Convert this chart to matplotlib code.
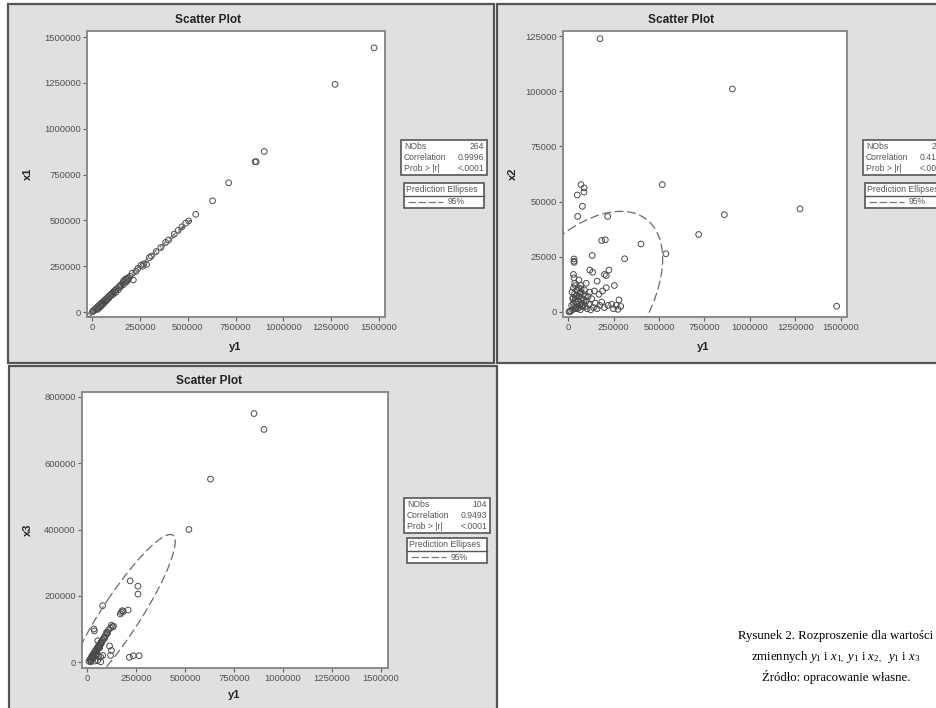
import numpy as np
import matplotlib
matplotlib.use('Agg')
import matplotlib.pyplot as plt
from matplotlib.patches import Rectangle, Ellipse
from matplotlib.lines import Line2D

plt.rcParams['font.family'] = ['Liberation Sans', 'DejaVu Sans']
plt.rcParams['mathtext.fontset'] = 'custom'
plt.rcParams['mathtext.rm'] = 'Liberation Serif'
plt.rcParams['mathtext.it'] = 'Liberation Serif:italic'

W, H = 936, 708

# --- data ---
# panel 1: y1 vs x1
y1_a = [1474000, 1270000, 900000, 852000, 858000, 714000, 630000, 542000,
        505000, 490000, 470000, 450000, 430000, 400000, 385000, 360000, 335000,
        310000, 300000, 285000, 270000, 265000, 255000, 240000, 230000, 216000,
        210000, 200000, 190000, 185000, 180000, 175000, 170000, 165000, 160000,
        150000, 145000, 140000, 130000, 125000, 120000, 115000, 110000, 105000,
        100000, 95000, 90000, 85000, 80000, 75000, 70000, 65000, 60000, 55000,
        50000, 45000, 40000, 35000, 30000, 25000, 20000, 15000, 10000, 5000, 2000,
        62000, 72000, 88000, 98000, 110000, 125000, 138000, 55000, 45000, 35000,
        28000, 66000, 78000, 150000, 165000, 180000, 190000, 178000]
x1_a = [1441000, 1242000, 876000, 820000, 820000, 705000, 607000, 533000,
        497000, 485000, 465000, 445000, 425000, 393000, 380000, 352000, 330000,
        305000, 297000, 260000, 262000, 250000, 255000, 238000, 222000, 175000,
        212000, 195000, 188000, 180000, 172000, 178000, 165000, 170000, 155000,
        148000, 140000, 135000, 128000, 120000, 118000, 110000, 108000, 100000,
        98000, 92000, 88000, 80000, 78000, 72000, 68000, 62000, 58000, 53000,
        48000, 43000, 38000, 33000, 28000, 24000, 19000, 14000, 9000, 4000, 1000,
        48000, 60000, 76000, 88000, 96000, 108000, 122000, 40000, 30000, 20000,
        14000, 55000, 66000, 138000, 150000, 165000, 178000, 182000]

# panel 2: y1 vs x2
y1_b = [176000, 903000, 518000, 1275000, 859000, 718000, 538000, 1476000,
        401000, 311000, 218000, 71000, 89000, 88000, 51000, 79000, 53000,
        185000, 205000, 133000, 33000, 33000, 34000, 120000, 135000, 200000,
        210000, 225000, 30000, 33000, 255000, 160000, 100000, 60000, 70000,
        210000, 190000, 170000, 280000, 290000, 275000, 240000, 220000, 200000,
        150000, 130000, 120000, 110000, 100000, 90000, 85000, 80000, 75000,
        70000, 65000, 60000, 55000, 50000, 45000, 40000, 35000, 30000, 25000,
        20000, 15000, 10000, 5000, 40000, 50000, 30000, 60000, 95000, 140000,
        175000, 160000, 105000, 115000, 48000, 38000, 28000, 22000, 68000,
        82000, 125000, 185000, 250000, 265000, 145000, 95000, 42000, 58000,
        36000, 26000, 64000, 52000, 44000, 76000, 88000, 32000, 72000]
x2_b = [123800, 101000, 57700, 46700, 44100, 35100, 26400, 2600,
        30800, 24100, 43300, 57700, 56200, 54300, 53000, 47900, 43300,
        32400, 32700, 25600, 24000, 23000, 22500, 19000, 18000, 17000,
        16500, 19000, 17000, 15500, 12000, 14000, 13000, 14500, 12000,
        11000, 9500, 8000, 5500, 2500, 1200, 3500, 3000, 2000,
        4000, 6000, 9000, 7000, 5000, 10000, 8000, 6000, 4000,
        9000, 3000, 7000, 5000, 10000, 2000, 6000, 8000, 4000, 1000,
        3000, 500, 200, 100, 12000, 3500, 11000, 2000, 2500, 2000,
        3000, 1500, 1500, 3500, 7500, 1500, 6500, 9000, 1000,
        2500, 1000, 4500, 1500, 3000, 9500, 7000, 4500, 11000,
        13000, 6000, 8500, 1500, 7000, 3000, 5500, 2500, 10500]

# panel 3: y1 vs x3
y1_c = [852000, 903000, 630000, 520000, 220000, 260000, 260000, 80000,
        210000, 180000, 175000, 170000, 125000, 130000, 120000, 135000, 35000,
        38000, 55000, 115000, 125000, 120000, 216000, 236000, 266000,
        80000, 60000, 70000, 45000, 70000, 55000, 40000, 20000, 10000,
        15000, 20000, 25000, 30000, 35000, 40000, 45000, 50000, 55000, 60000,
        65000, 70000, 75000, 80000, 85000, 90000, 95000, 100000, 105000,
        28000, 33000, 42000, 48000, 52000, 58000, 62000, 68000, 74000, 30000,
        22000, 18000, 26000, 50000, 65000, 90000, 100000, 110000, 185000]
x3_c = [750000, 702000, 552000, 400000, 245000, 229000, 205000, 170000,
        157000, 155000, 150000, 145000, 111000, 106000, 103000, 108000, 99600,
        94000, 64300, 48300, 35000, 20000, 14200, 19000, 19000,
        20000, 18000, 15000, 20000, 500, 5000, 3000, 500, 2000,
        8000, 12000, 18000, 22000, 26000, 31000, 36000, 40000, 45000, 50000,
        54000, 58000, 62000, 66000, 71000, 76000, 80000, 85000, 88000,
        15000, 21000, 28000, 33000, 37000, 42000, 46000, 52000, 57000, 10000,
        6000, 4000, 14000, 25000, 43000, 72000, 90000, 97000, 152000]

x_ticks = [0, 250000, 500000, 750000, 1000000, 1250000, 1500000]
y_ticks_a = [0, 250000, 500000, 750000, 1000000, 1250000, 1500000]
y_ticks_b = [0, 25000, 50000, 75000, 100000, 125000]
y_ticks_c = [0, 200000, 400000, 600000, 800000]

stats_a = ['264', '0.9996', '<.0001']
stats_b = ['239', '0.4123', '<.0001']
stats_c = ['104', '0.9493', '<.0001']

# 95% prediction ellipses: centre, spread along x / y, correlation
ell_a = [(95000, 92000), (420000, 410000), 0.9996]
ell_b = [(40800, 600), (479200, 45000), 0.52]
ell_c = [(170000, 140000), (280000, 245000), 0.91]

fig = plt.figure(figsize=(W / 100, H / 100), dpi=100)


def fx(x):
    return x / W


def fy(y):
    return 1 - y / H


def panel_box(l, t, r, b):
    fig.patches.append(Rectangle((fx(l), fy(b)), fx(r - l), (b - t) / H,
                                 transform=fig.transFigure, facecolor='#e0e0e0',
                                 edgecolor='#555555', lw=1.6, zorder=-2))


def scatter_panel(box, xs, ys, xlim, ylim, yticks, ell, ylab, title_xy, xlab_xy, ylab_xy):
    l, t, r, b = box
    ax = fig.add_axes([fx(l), fy(b), fx(r - l), (b - t) / H])
    ax.set_facecolor('white')
    ax.scatter(xs, ys, s=17, facecolors='none', edgecolors='#4a4a4a', lw=0.7, zorder=3)
    ax.set_xlim(xlim)
    ax.set_ylim(ylim)
    ax.set_xticks(x_ticks)
    ax.set_xticklabels([str(v) for v in x_ticks])
    ax.set_yticks(yticks)
    ax.set_yticklabels([str(v) for v in yticks])
    ax.tick_params(labelsize=6.8, colors='#606060', labelcolor='#505050',
                   length=3, width=0.8, pad=1.5)
    for s in ax.spines.values():
        s.set_color('#8a8a8a')
        s.set_linewidth(1.4)

    # prediction ellipse
    (cx, cy), (sx, sy), rho = ell
    cov = np.array([[sx * sx, rho * sx * sy], [rho * sx * sy, sy * sy]])
    vals, vecs = np.linalg.eigh(cov)
    ang = np.degrees(np.arctan2(vecs[1, 1], vecs[0, 1]))
    e = Ellipse((cx, cy), 2 * np.sqrt(vals[1]), 2 * np.sqrt(vals[0]), angle=ang,
                fill=False, ec='#6a6a6a', lw=0.9, ls=(0, (7, 3)), zorder=4)
    clip = Rectangle((0, 0), xlim[1], ylim[1], transform=ax.transData)
    e.set_clip_path(clip)
    ax.add_patch(e)

    fig.text(fx(title_xy[0]), fy(title_xy[1]), 'Scatter Plot', fontsize=8.6,
             fontweight='bold', color='#222222', ha='center', va='center')
    fig.text(fx(xlab_xy[0]), fy(xlab_xy[1]), 'y1', fontsize=8, fontweight='bold',
             color='#222222', ha='center', va='center')
    fig.text(fx(ylab_xy[0]), fy(ylab_xy[1]), ylab, fontsize=8, fontweight='bold',
             color='#222222', ha='center', va='center', rotation=90)
    return ax


def legend_boxes(sx, sy, ex, ey, vals):
    # statistics box
    w, h = 86, 35
    fig.patches.append(Rectangle((fx(sx), fy(sy + h)), fx(w), h / H, transform=fig.transFigure,
                                 facecolor='white', edgecolor='#555555', lw=1.2, zorder=1))
    names = ['NObs', 'Correlation', 'Prob > |r|']
    for i in range(3):
        yy = sy + 6.5 + i * 11.2
        fig.text(fx(sx + 3), fy(yy), names[i], fontsize=6.2, color='#555555',
                 ha='left', va='center')
        fig.text(fx(sx + w - 3), fy(yy), vals[i], fontsize=6.2, color='#555555',
                 ha='right', va='center')
    # prediction ellipses box
    w2, h2 = 80, 25
    fig.patches.append(Rectangle((fx(ex), fy(ey + h2)), fx(w2), h2 / H, transform=fig.transFigure,
                                 facecolor='white', edgecolor='#555555', lw=1.2, zorder=1))
    fig.text(fx(ex + 2), fy(ey + 6.5), 'Prediction Ellipses', fontsize=6.2,
             color='#555555', ha='left', va='center')
    fig.lines.append(Line2D([fx(ex), fx(ex + w2)], [fy(ey + 12.5), fy(ey + 12.5)],
                            transform=fig.transFigure, color='#555555', lw=1.0))
    fig.lines.append(Line2D([fx(ex + 4), fx(ex + 39)], [fy(ey + 19), fy(ey + 19)],
                            transform=fig.transFigure, color='#777777', lw=0.9, ls=(0, (6, 2))))
    fig.text(fx(ex + 44), fy(ey + 19), '95%', fontsize=6.2, color='#555555',
             ha='left', va='center')


panel_box(8, 4, 494, 363)
panel_box(497, 4, 945, 363)
panel_box(9, 366, 497, 715)

scatter_panel((87, 31, 385, 317), y1_a, x1_a, (-26000, 1531000), (-27000, 1533000),
              y_ticks_a, ell_a, 'x1', (208, 20), (235, 347), (28, 174))
scatter_panel((563, 31, 847, 317), y1_b, x2_b, (-27500, 1533000), (-2270, 127270),
              y_ticks_b, ell_b, 'x2', (681, 20), (703, 347), (513, 174))
scatter_panel((82, 392, 388, 668), y1_c, x3_c, (-25500, 1535700), (-18000, 815000),
              y_ticks_c, ell_c, 'x3', (209, 381), (234, 695), (28, 530))

legend_boxes(401, 140, 404, 183, stats_a)
legend_boxes(863, 140, 865, 183, stats_b)
legend_boxes(404, 498, 407, 538, stats_c)

cap_font = ['Liberation Serif', 'DejaVu Serif']
fig.text(fx(836), fy(636), 'Rysunek 2. Rozproszenie dla wartości', family=cap_font,
         fontsize=9.2, ha='center', va='center')
fig.text(fx(836), fy(657),
         r'zmiennych $y_{\mathit{1}}$ i $x_{\mathit{1,}}$ $y_{\mathit{1}}$ i $x_{\mathit{2,}}$  $y_{\mathit{1}}$ i $x_{\mathit{3}}$',
         family=cap_font, fontsize=9.2, ha='center', va='center')
fig.text(fx(836), fy(677), 'Źródło: opracowanie własne.', family=cap_font,
         fontsize=9.2, ha='center', va='center')

fig.savefig('out.png', dpi=100)
